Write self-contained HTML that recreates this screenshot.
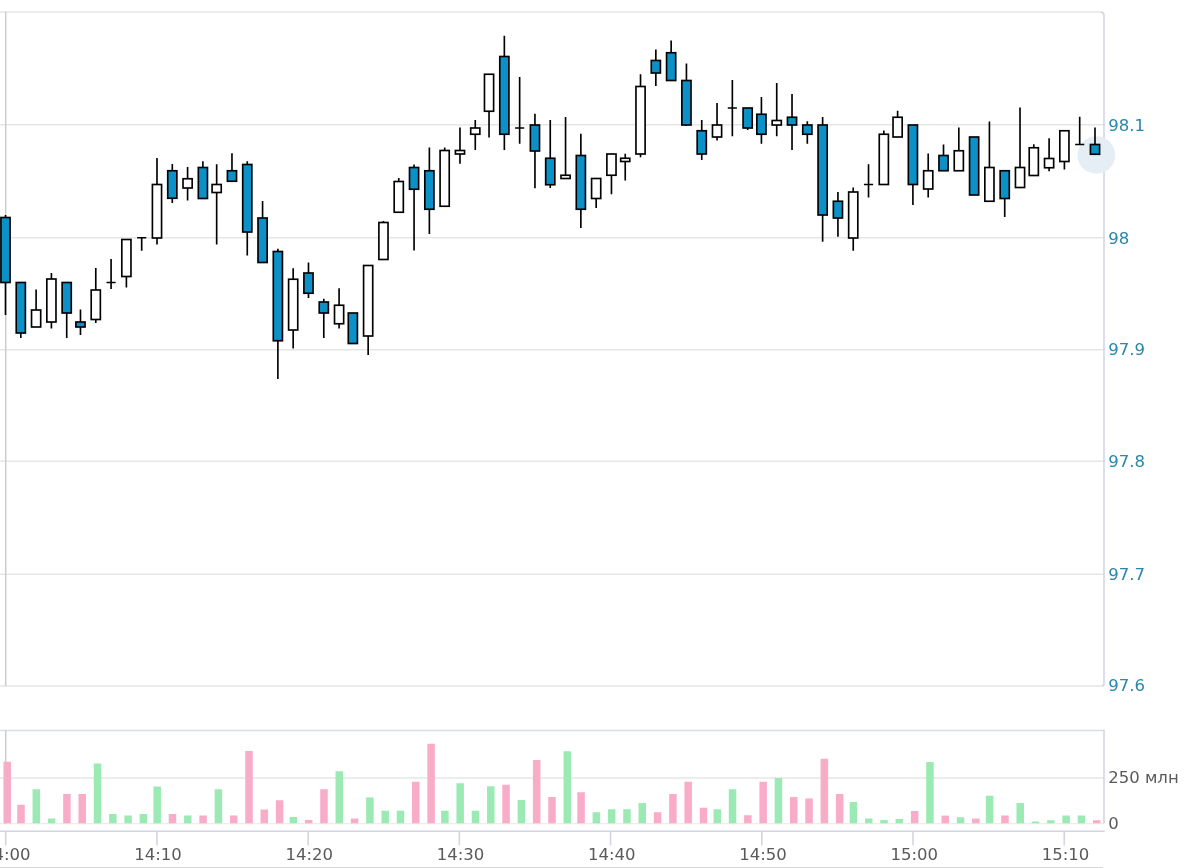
<!DOCTYPE html>
<html lang="ru"><head><meta charset="utf-8"><title>Chart</title>
<style>html,body{margin:0;padding:0;background:#fff;}body{width:1200px;height:868px;overflow:hidden;}svg{display:block;}
text{font-family:"DejaVu Sans","Liberation Sans",sans-serif;font-size:16.5px;}
.yl{fill:#2a86aa;}.xl{fill:#5a5a5a;text-anchor:middle;}.vl{fill:#5a5a5a;}
</style></head><body>
<svg width="1200" height="868" viewBox="0 0 1200 868">
<rect x="0" y="0" width="1200" height="868" fill="#ffffff"/>
<g stroke="#e6e6e6" stroke-width="1.5" fill="none">
<path d="M0 12.1 H1100.5"/>
<path d="M0 124.8 H1104"/>
<path d="M0 237.8 H1104"/>
<path d="M0 349.75 H1104"/>
<path d="M0 461.25 H1104"/>
<path d="M0 574.2 H1104"/>
<path d="M0 686 H1101.5"/>
<path d="M0 778 H1104"/>
</g>
<path d="M0 823.7 H1104" stroke="#ececec" stroke-width="1.2" fill="none"/>
<path d="M0 730.5 H1104" stroke="#dadde6" stroke-width="1.5" fill="none"/>
<g stroke="#cccccc" stroke-width="1.5" fill="none">
<path d="M5.7 12.1 V686"/><path d="M5.7 730.5 V823.5"/>
</g>
<g stroke="#d3d6e0" stroke-width="1.6" fill="none">
<path d="M1100.5 12.1 Q1104 12.1 1104 15.5 V683.5 Q1104 686 1101.5 686"/>
<path d="M1104 729.8 V823.6"/>
<path d="M0 831.3 H1104.8"/>
<path d="M5.7 831.3 V845.5"/>
<path d="M156.92 831.3 V845.5"/>
<path d="M308.14 831.3 V845.5"/>
<path d="M459.36 831.3 V845.5"/>
<path d="M610.58 831.3 V845.5"/>
<path d="M761.8 831.3 V845.5"/>
<path d="M913.02 831.3 V845.5"/>
<path d="M1064.24 831.3 V845.5"/>
</g>
<path d="M0 867.5 H1103" stroke="#d8d8d8" stroke-width="1.2" fill="none"/>
<rect x="3.48" y="761.75" width="7.5" height="61.55" fill="#f8acc8"/>
<rect x="17.25" y="804.75" width="7.5" height="18.55" fill="#f8acc8"/>
<rect x="32.55" y="789.25" width="7.5" height="34.05" fill="#9ceab3"/>
<rect x="47.86" y="818.5" width="7.5" height="4.8" fill="#9ceab3"/>
<rect x="63.16" y="794" width="7.5" height="29.3" fill="#f8acc8"/>
<rect x="78.46" y="794" width="7.5" height="29.3" fill="#f8acc8"/>
<rect x="93.76" y="763.5" width="7.5" height="59.8" fill="#9ceab3"/>
<rect x="109.06" y="814" width="7.5" height="9.3" fill="#9ceab3"/>
<rect x="124.37" y="815.5" width="7.5" height="7.8" fill="#9ceab3"/>
<rect x="139.67" y="814" width="7.5" height="9.3" fill="#9ceab3"/>
<rect x="153.44" y="786.5" width="7.5" height="36.8" fill="#9ceab3"/>
<rect x="168.74" y="814" width="7.5" height="9.3" fill="#f8acc8"/>
<rect x="184.04" y="815.5" width="7.5" height="7.8" fill="#9ceab3"/>
<rect x="199.35" y="815.5" width="7.5" height="7.8" fill="#f8acc8"/>
<rect x="214.65" y="789.25" width="7.5" height="34.05" fill="#9ceab3"/>
<rect x="229.95" y="815.5" width="7.5" height="7.8" fill="#f8acc8"/>
<rect x="245.25" y="751" width="7.5" height="72.3" fill="#f8acc8"/>
<rect x="260.55" y="809.5" width="7.5" height="13.8" fill="#f8acc8"/>
<rect x="275.86" y="800.25" width="7.5" height="23.05" fill="#f8acc8"/>
<rect x="289.63" y="817" width="7.5" height="6.3" fill="#9ceab3"/>
<rect x="304.93" y="820" width="7.5" height="3.3" fill="#f8acc8"/>
<rect x="320.23" y="789.25" width="7.5" height="34.05" fill="#f8acc8"/>
<rect x="335.53" y="771.25" width="7.5" height="52.05" fill="#9ceab3"/>
<rect x="350.84" y="818.5" width="7.5" height="4.8" fill="#f8acc8"/>
<rect x="366.14" y="797.5" width="7.5" height="25.8" fill="#9ceab3"/>
<rect x="381.44" y="810.75" width="7.5" height="12.55" fill="#9ceab3"/>
<rect x="396.74" y="810.75" width="7.5" height="12.55" fill="#9ceab3"/>
<rect x="412.04" y="781.75" width="7.5" height="41.55" fill="#f8acc8"/>
<rect x="427.35" y="743.75" width="7.5" height="79.55" fill="#f8acc8"/>
<rect x="441.12" y="810.75" width="7.5" height="12.55" fill="#9ceab3"/>
<rect x="456.42" y="783.25" width="7.5" height="40.05" fill="#9ceab3"/>
<rect x="471.72" y="810.75" width="7.5" height="12.55" fill="#9ceab3"/>
<rect x="487.02" y="786.25" width="7.5" height="37.05" fill="#9ceab3"/>
<rect x="502.33" y="784.75" width="7.5" height="38.55" fill="#f8acc8"/>
<rect x="517.63" y="800" width="7.5" height="23.3" fill="#9ceab3"/>
<rect x="532.93" y="760" width="7.5" height="63.3" fill="#f8acc8"/>
<rect x="548.23" y="797" width="7.5" height="26.3" fill="#f8acc8"/>
<rect x="563.53" y="751.25" width="7.5" height="72.05" fill="#9ceab3"/>
<rect x="577.31" y="792.25" width="7.5" height="31.05" fill="#f8acc8"/>
<rect x="592.61" y="812.25" width="7.5" height="11.05" fill="#9ceab3"/>
<rect x="607.91" y="809.25" width="7.5" height="14.05" fill="#9ceab3"/>
<rect x="623.21" y="809.25" width="7.5" height="14.05" fill="#9ceab3"/>
<rect x="638.51" y="803" width="7.5" height="20.3" fill="#9ceab3"/>
<rect x="653.82" y="812.25" width="7.5" height="11.05" fill="#f8acc8"/>
<rect x="669.12" y="794" width="7.5" height="29.3" fill="#f8acc8"/>
<rect x="684.42" y="781.75" width="7.5" height="41.55" fill="#f8acc8"/>
<rect x="699.72" y="807.75" width="7.5" height="15.55" fill="#f8acc8"/>
<rect x="713.49" y="809.25" width="7.5" height="14.05" fill="#9ceab3"/>
<rect x="728.79" y="789.25" width="7.5" height="34.05" fill="#9ceab3"/>
<rect x="744.1" y="815.25" width="7.5" height="8.05" fill="#f8acc8"/>
<rect x="759.4" y="781.75" width="7.5" height="41.55" fill="#f8acc8"/>
<rect x="774.7" y="778" width="7.5" height="45.3" fill="#9ceab3"/>
<rect x="790" y="797" width="7.5" height="26.3" fill="#f8acc8"/>
<rect x="805.3" y="798.5" width="7.5" height="24.8" fill="#f8acc8"/>
<rect x="820.61" y="758.75" width="7.5" height="64.55" fill="#f8acc8"/>
<rect x="835.91" y="794" width="7.5" height="29.3" fill="#f8acc8"/>
<rect x="849.68" y="802" width="7.5" height="21.3" fill="#9ceab3"/>
<rect x="864.98" y="818.5" width="7.5" height="4.8" fill="#9ceab3"/>
<rect x="880.28" y="820" width="7.5" height="3.3" fill="#9ceab3"/>
<rect x="895.59" y="819" width="7.5" height="4.3" fill="#9ceab3"/>
<rect x="910.89" y="811" width="7.5" height="12.3" fill="#f8acc8"/>
<rect x="926.19" y="762" width="7.5" height="61.3" fill="#9ceab3"/>
<rect x="941.49" y="815.6" width="7.5" height="7.7" fill="#f8acc8"/>
<rect x="956.79" y="817.3" width="7.5" height="6" fill="#9ceab3"/>
<rect x="972.1" y="818.6" width="7.5" height="4.7" fill="#f8acc8"/>
<rect x="985.87" y="795.7" width="7.5" height="27.6" fill="#9ceab3"/>
<rect x="1001.17" y="815.5" width="7.5" height="7.8" fill="#f8acc8"/>
<rect x="1016.47" y="803" width="7.5" height="20.3" fill="#9ceab3"/>
<rect x="1031.77" y="821.5" width="7.5" height="1.8" fill="#9ceab3"/>
<rect x="1047.08" y="820.25" width="7.5" height="3.05" fill="#9ceab3"/>
<rect x="1062.38" y="815.5" width="7.5" height="7.8" fill="#9ceab3"/>
<rect x="1077.68" y="815.5" width="7.5" height="7.8" fill="#9ceab3"/>
<rect x="1092.98" y="820.25" width="7.5" height="3.05" fill="#f8acc8"/>
<circle cx="1096.3" cy="155" r="18.8" fill="#e5eef5"/>
<g stroke="#000000" stroke-width="1.65">
<path d="M5.5 215 V217.5M5.5 282.5 V315" fill="none"/>
<rect x="0.92" y="217.5" width="9.15" height="65" fill="#0c90c8"/>
<path d="M20.8 333 V338" fill="none"/>
<rect x="16.23" y="282.5" width="9.15" height="50.5" fill="#0c90c8"/>
<path d="M36.1 289.5 V310" fill="none"/>
<rect x="31.53" y="310" width="9.15" height="17" fill="#ffffff"/>
<path d="M51.41 273 V279M51.41 322 V328.5" fill="none"/>
<rect x="46.83" y="279" width="9.15" height="43" fill="#ffffff"/>
<path d="M66.71 313 V338" fill="none"/>
<rect x="62.13" y="282.5" width="9.15" height="30.5" fill="#0c90c8"/>
<path d="M80.48 309.5 V322M80.48 327 V335" fill="none"/>
<rect x="75.9" y="322" width="9.15" height="5" fill="#0c90c8"/>
<path d="M95.78 268 V290M95.78 319.5 V323" fill="none"/>
<rect x="91.21" y="290" width="9.15" height="29.5" fill="#ffffff"/>
<path d="M111.08 259 V289 M106.51 282.5 H115.66" fill="none"/>
<path d="M126.39 276.5 V287.5" fill="none"/>
<rect x="121.81" y="239.5" width="9.15" height="37" fill="#ffffff"/>
<path d="M141.69 237.75 V250.75 M137.11 237.75 H146.26" fill="none"/>
<path d="M156.99 158 V184.5M156.99 238 V244.5" fill="none"/>
<rect x="152.41" y="184.5" width="9.15" height="53.5" fill="#ffffff"/>
<path d="M172.29 164 V170.75M172.29 198.25 V203" fill="none"/>
<rect x="167.72" y="170.75" width="9.15" height="27.5" fill="#0c90c8"/>
<path d="M187.59 167 V178.75M187.59 188 V200.5" fill="none"/>
<rect x="183.02" y="178.75" width="9.15" height="9.25" fill="#ffffff"/>
<path d="M202.9 161.25 V167.5" fill="none"/>
<rect x="198.32" y="167.5" width="9.15" height="31" fill="#0c90c8"/>
<path d="M216.67 164.25 V184.5M216.67 192.5 V244.5" fill="none"/>
<rect x="212.09" y="184.5" width="9.15" height="8" fill="#ffffff"/>
<path d="M231.97 153.25 V170.75" fill="none"/>
<rect x="227.39" y="170.75" width="9.15" height="10.5" fill="#0c90c8"/>
<path d="M247.27 161.25 V164.5M247.27 232 V255.5" fill="none"/>
<rect x="242.7" y="164.5" width="9.15" height="67.5" fill="#0c90c8"/>
<path d="M262.57 201 V218" fill="none"/>
<rect x="258" y="218" width="9.15" height="44.5" fill="#0c90c8"/>
<path d="M277.88 248.75 V251.5M277.88 340.75 V379" fill="none"/>
<rect x="273.3" y="251.5" width="9.15" height="89.25" fill="#0c90c8"/>
<path d="M293.18 268.25 V279.25M293.18 330 V348.5" fill="none"/>
<rect x="288.6" y="279.25" width="9.15" height="50.75" fill="#ffffff"/>
<path d="M308.48 262.5 V273M308.48 293.25 V298" fill="none"/>
<rect x="303.9" y="273" width="9.15" height="20.25" fill="#0c90c8"/>
<path d="M323.78 298.75 V302M323.78 313 V338" fill="none"/>
<rect x="319.21" y="302" width="9.15" height="11" fill="#0c90c8"/>
<path d="M339.08 288.25 V305.25M339.08 323.75 V328.5" fill="none"/>
<rect x="334.51" y="305.25" width="9.15" height="18.5" fill="#ffffff"/>
<rect x="348.28" y="313" width="9.15" height="30.5" fill="#0c90c8"/>
<path d="M368.16 336 V355" fill="none"/>
<rect x="363.58" y="265.5" width="9.15" height="70.5" fill="#ffffff"/>
<path d="M383.46 221 V222.5" fill="none"/>
<rect x="378.88" y="222.5" width="9.15" height="37" fill="#ffffff"/>
<path d="M398.76 178 V181.5" fill="none"/>
<rect x="394.19" y="181.5" width="9.15" height="30.75" fill="#ffffff"/>
<path d="M414.06 164.5 V167.5M414.06 189.25 V250.5" fill="none"/>
<rect x="409.49" y="167.5" width="9.15" height="21.75" fill="#0c90c8"/>
<path d="M429.37 147.5 V170.75M429.37 209.25 V234" fill="none"/>
<rect x="424.79" y="170.75" width="9.15" height="38.5" fill="#0c90c8"/>
<path d="M444.67 147.5 V150.5" fill="none"/>
<rect x="440.09" y="150.5" width="9.15" height="55.75" fill="#ffffff"/>
<path d="M459.97 127.5 V150.5M459.97 154 V163.75" fill="none"/>
<rect x="455.39" y="150.5" width="9.15" height="3.5" fill="#ffffff"/>
<path d="M475.27 120 V128M475.27 134.25 V150" fill="none"/>
<rect x="470.7" y="128" width="9.15" height="6.25" fill="#ffffff"/>
<path d="M489.04 111.25 V137.5" fill="none"/>
<rect x="484.47" y="74.25" width="9.15" height="37" fill="#ffffff"/>
<path d="M504.35 35.75 V56.5M504.35 134.25 V150" fill="none"/>
<rect x="499.77" y="56.5" width="9.15" height="77.75" fill="#0c90c8"/>
<path d="M519.65 77 V143.75 M515.07 128 H524.22" fill="none"/>
<path d="M534.95 113.75 V125M534.95 151 V188.25" fill="none"/>
<rect x="530.37" y="125" width="9.15" height="26" fill="#0c90c8"/>
<path d="M550.25 120 V158.25M550.25 184.75 V188" fill="none"/>
<rect x="545.68" y="158.25" width="9.15" height="26.5" fill="#0c90c8"/>
<path d="M565.55 117 V175.25" fill="none"/>
<rect x="560.98" y="175.25" width="9.15" height="3.25" fill="#ffffff"/>
<path d="M580.86 133.75 V155.5M580.86 209.25 V228" fill="none"/>
<rect x="576.28" y="155.5" width="9.15" height="53.75" fill="#0c90c8"/>
<path d="M596.16 198.5 V208" fill="none"/>
<rect x="591.58" y="178.5" width="9.15" height="20" fill="#ffffff"/>
<path d="M611.46 175.25 V194.25" fill="none"/>
<rect x="606.88" y="154" width="9.15" height="21.25" fill="#ffffff"/>
<path d="M625.23 153.75 V158.25M625.23 161.5 V180.5" fill="none"/>
<rect x="620.66" y="158.25" width="9.15" height="3.25" fill="#ffffff"/>
<path d="M640.53 74.25 V86.5M640.53 154 V157.25" fill="none"/>
<rect x="635.96" y="86.5" width="9.15" height="67.5" fill="#ffffff"/>
<path d="M655.84 49.5 V60.5M655.84 73 V86" fill="none"/>
<rect x="651.26" y="60.5" width="9.15" height="12.5" fill="#0c90c8"/>
<path d="M671.14 40.5 V52.75" fill="none"/>
<rect x="666.56" y="52.75" width="9.15" height="27.75" fill="#0c90c8"/>
<path d="M686.44 63.5 V80.5M686.44 125 V126" fill="none"/>
<rect x="681.86" y="80.5" width="9.15" height="44.5" fill="#0c90c8"/>
<path d="M701.74 120 V130.75M701.74 154 V160" fill="none"/>
<rect x="697.17" y="130.75" width="9.15" height="23.25" fill="#0c90c8"/>
<path d="M717.04 103 V125M717.04 137 V140.5" fill="none"/>
<rect x="712.47" y="125" width="9.15" height="12" fill="#ffffff"/>
<path d="M732.35 80 V136.25 M727.77 108 H736.92" fill="none"/>
<path d="M747.65 128 V130" fill="none"/>
<rect x="743.07" y="108" width="9.15" height="20" fill="#0c90c8"/>
<path d="M761.42 97 V114.25M761.42 134.25 V143.75" fill="none"/>
<rect x="756.84" y="114.25" width="9.15" height="20" fill="#0c90c8"/>
<path d="M776.72 83 V120.5M776.72 125 V136.25" fill="none"/>
<rect x="772.15" y="120.5" width="9.15" height="4.5" fill="#ffffff"/>
<path d="M792.02 94 V117.25M792.02 125 V150" fill="none"/>
<rect x="787.45" y="117.25" width="9.15" height="7.75" fill="#0c90c8"/>
<path d="M807.32 121.25 V125M807.32 134.25 V143.75" fill="none"/>
<rect x="802.75" y="125" width="9.15" height="9.25" fill="#0c90c8"/>
<path d="M822.63 117 V125M822.63 215 V241.75" fill="none"/>
<rect x="818.05" y="125" width="9.15" height="90" fill="#0c90c8"/>
<path d="M837.93 192 V201.25M837.93 218 V236.75" fill="none"/>
<rect x="833.35" y="201.25" width="9.15" height="16.75" fill="#0c90c8"/>
<path d="M853.23 187.5 V192M853.23 238 V250.75" fill="none"/>
<rect x="848.66" y="192" width="9.15" height="46" fill="#ffffff"/>
<path d="M868.53 164.25 V197.5 M863.96 184.5 H873.11" fill="none"/>
<path d="M883.83 130.5 V134.25" fill="none"/>
<rect x="879.26" y="134.25" width="9.15" height="50.25" fill="#ffffff"/>
<path d="M897.61 110.75 V117.25" fill="none"/>
<rect x="893.03" y="117.25" width="9.15" height="19.75" fill="#ffffff"/>
<path d="M912.91 184.5 V205" fill="none"/>
<rect x="908.33" y="125" width="9.15" height="59.5" fill="#0c90c8"/>
<path d="M928.21 153.5 V170.75M928.21 189 V197.5" fill="none"/>
<rect x="923.64" y="170.75" width="9.15" height="18.25" fill="#ffffff"/>
<path d="M943.51 144.5 V155.5" fill="none"/>
<rect x="938.94" y="155.5" width="9.15" height="15.25" fill="#0c90c8"/>
<path d="M958.81 127.5 V150.75" fill="none"/>
<rect x="954.24" y="150.75" width="9.15" height="20" fill="#ffffff"/>
<rect x="969.54" y="137" width="9.15" height="58" fill="#0c90c8"/>
<path d="M989.42 121.5 V167.5" fill="none"/>
<rect x="984.84" y="167.5" width="9.15" height="33.75" fill="#ffffff"/>
<path d="M1004.72 198.5 V217" fill="none"/>
<rect x="1000.15" y="170.75" width="9.15" height="27.75" fill="#0c90c8"/>
<path d="M1020.02 107.5 V167.5" fill="none"/>
<rect x="1015.45" y="167.5" width="9.15" height="20" fill="#ffffff"/>
<path d="M1033.79 144.25 V147.75" fill="none"/>
<rect x="1029.22" y="147.75" width="9.15" height="27.75" fill="#ffffff"/>
<path d="M1049.1 138.25 V158.5M1049.1 167.75 V171.25" fill="none"/>
<rect x="1044.52" y="158.5" width="9.15" height="9.25" fill="#ffffff"/>
<path d="M1064.4 161.5 V169.5" fill="none"/>
<rect x="1059.82" y="130.75" width="9.15" height="30.75" fill="#ffffff"/>
<path d="M1079.7 116.75 V144.5 M1075.13 144.5 H1084.28" fill="none"/>
<path d="M1095 127.5 V144.5" fill="none"/>
<rect x="1090.43" y="144.5" width="9.15" height="9.75" fill="#0c90c8"/>
</g>
<text class="yl" x="1108.2" y="130.9">98.1</text>
<text class="yl" x="1108.2" y="243.7">98</text>
<text class="yl" x="1108.2" y="354.9">97.9</text>
<text class="yl" x="1108.2" y="466.6">97.8</text>
<text class="yl" x="1108.2" y="580.1">97.7</text>
<text class="yl" x="1108.2" y="691.35">97.6</text>
<text class="vl" x="1108.2" y="783.2">250 млн</text>
<text class="vl" x="1108.2" y="828.6">0</text>
<text class="xl" x="6.7" y="859.7">14:00</text>
<text class="xl" x="157.97" y="859.7">14:10</text>
<text class="xl" x="309.24" y="859.7">14:20</text>
<text class="xl" x="460.51" y="859.7">14:30</text>
<text class="xl" x="611.78" y="859.7">14:40</text>
<text class="xl" x="763.05" y="859.7">14:50</text>
<text class="xl" x="914.32" y="859.7">15:00</text>
<text class="xl" x="1065.59" y="859.7">15:10</text>
</svg>
</body></html>
